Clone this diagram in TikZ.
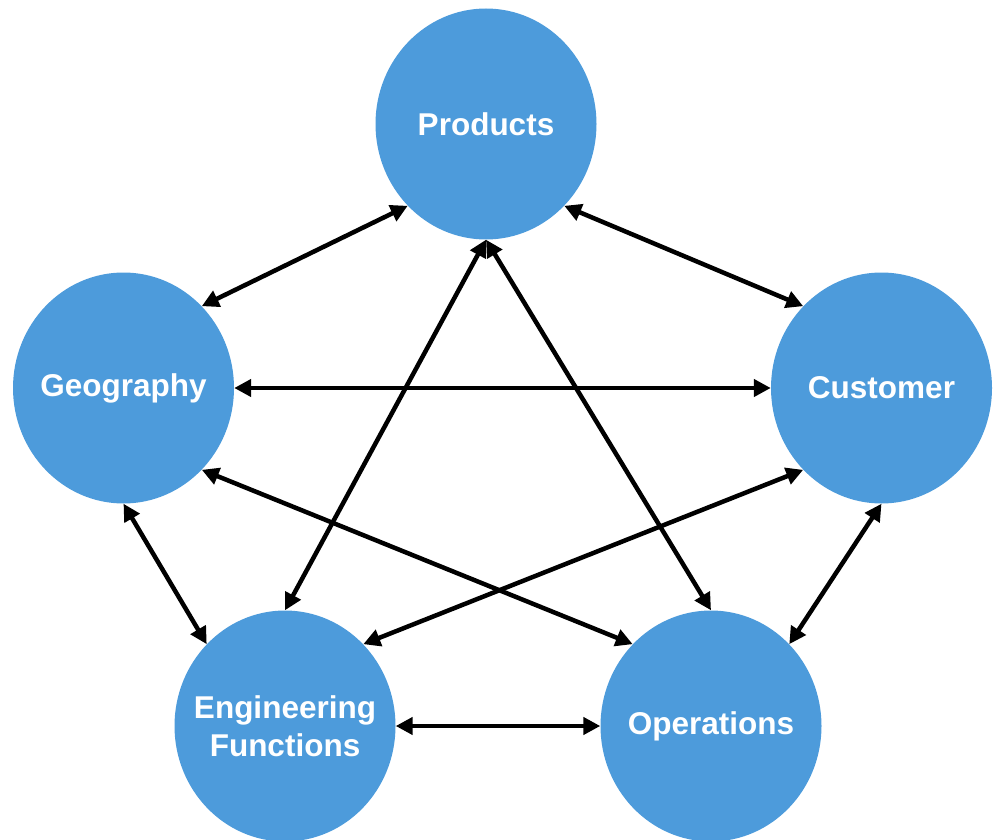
\documentclass[tikz,border=0pt]{standalone}
\usepackage{fontspec}
\setmainfont{Liberation Sans}
\usetikzlibrary{shapes.geometric,arrows.meta}
\definecolor{bubble}{RGB}{77,155,219}
% text of zero width, so the bubble keeps its own size
\newcommand{\bubbletext}[1]{\makebox[0pt]{#1}}
\begin{document}
\begin{tikzpicture}[x=1pt,y=-1pt]
      \useasboundingbox (0,0) rectangle (994,840);
      \draw[align=center,text=white,font=\fontsize{31.5}{38}\selectfont\bfseries,
            every node/.style={ellipse,fill=bubble,inner sep=0pt,
              minimum width=221pt,minimum height=231pt}]
        (486,124) node (prod){\bubbletext{Products}}
        (123.5,388) node (geo){\bubbletext{Geography}}
        (881.5,388) node (cust){\bubbletext{Customer}}
        (285,726) node (eng){\bubbletext{Engineering}\\\bubbletext{Functions}}
        (711,726) node (ops){\bubbletext{Operations}};
      \begin{scope}[line width=4.5pt,
          {Triangle[length=17pt,width=17pt]}-{Triangle[length=17pt,width=17pt]}]
        \draw (prod.south west) to (geo.north east);
        \draw (prod.south east) to (cust.north west);
        \draw (prod.south) to (eng.north);
        \draw (prod.south) to (ops.north);
        \draw (geo.east) to (cust.west);
        \draw (geo.south east) to (ops.north west);
        \draw (geo.south) to (eng.north west);
        \draw (cust.south west) to (eng.north east);
        \draw (cust.south) to (ops.north east);
        \draw (eng.east) to (ops.west);
      \end{scope}
    \end{tikzpicture}
\end{document}
